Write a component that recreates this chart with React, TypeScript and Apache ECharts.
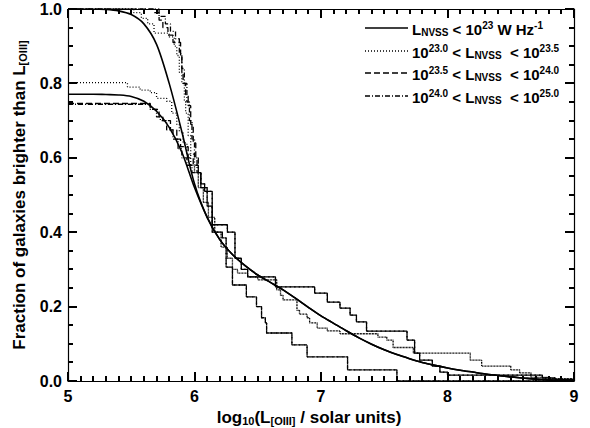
import React, { useEffect, useRef } from "react";
import * as echarts from "echarts";

// ---------- data ----------
const xMin = 5;
const xMax = 9;
const yMin = 0;
const yMax = 1;
const xMajorStep = 1;
const xMinorStep = 0.1;
const yMajorStep = 0.2;
const yMinorStep = 0.05;

// Solid (smooth) curves: L_NVSS < 1e23
const solidUpperHead = [
  [5.0, 1.0], [5.1, 1.0], [5.2, 1.0], [5.3, 0.999], [5.4, 0.995], [5.5, 0.985], [5.6, 0.96],
  [5.7, 0.905], [5.8, 0.8], [5.9, 0.67], [6.0, 0.53], [6.1, 0.44],
];
const solidLowerHead = [
  [5.0, 0.771], [5.1, 0.771], [5.2, 0.771], [5.3, 0.77], [5.4, 0.769], [5.5, 0.765],
  [5.6, 0.752], [5.7, 0.725], [5.8, 0.682], [5.9, 0.615], [6.0, 0.52], [6.1, 0.44],
];
const solidTail = [
  [6.2, 0.38], [6.3, 0.34], [6.4, 0.31], [6.5, 0.285], [6.6, 0.265], [6.7, 0.245],
  [6.8, 0.222], [6.9, 0.198], [7.0, 0.175], [7.1, 0.155], [7.2, 0.135], [7.3, 0.116],
  [7.4, 0.099], [7.5, 0.084], [7.6, 0.071], [7.7, 0.06], [7.8, 0.05], [7.9, 0.042],
  [8.0, 0.035], [8.1, 0.029], [8.2, 0.024], [8.3, 0.019], [8.4, 0.015], [8.5, 0.011],
  [8.6, 0.008], [8.7, 0.005], [8.8, 0.003], [8.9, 0.001], [9.0, 0.0],
];

// Dotted (step) curves: 1e23.0 < L < 1e23.5
const dottedUpperHead = [
  [5.0, 1.0], [5.52, 0.99], [5.58, 0.975], [5.63, 0.96], [5.68, 0.935], [5.8, 0.925],
  [5.84, 0.9], [5.86, 0.875], [5.88, 0.83], [5.9, 0.8], [5.92, 0.75], [5.93, 0.72],
  [5.95, 0.66], [5.97, 0.61], [6.0, 0.56],
];
const dottedLowerHead = [
  [5.0, 0.802], [5.47, 0.79], [5.57, 0.782], [5.65, 0.775], [5.7, 0.76], [5.78, 0.752],
  [5.82, 0.72], [5.86, 0.69], [5.88, 0.67], [5.91, 0.64], [5.94, 0.61], [5.97, 0.58],
  [6.0, 0.56],
];
const dottedTail = [
  [6.03, 0.52], [6.07, 0.48], [6.11, 0.44], [6.16, 0.4], [6.21, 0.36], [6.26, 0.33],
  [6.3, 0.3], [6.34, 0.29], [6.42, 0.28], [6.5, 0.272], [6.65, 0.245], [6.68, 0.23],
  [6.7, 0.218], [6.81, 0.19], [6.83, 0.18], [6.89, 0.17], [6.91, 0.156], [6.97, 0.142],
  [7.05, 0.135], [7.15, 0.127], [7.45, 0.118], [7.52, 0.11], [7.57, 0.09], [7.73, 0.075],
  [8.18, 0.056], [8.27, 0.04], [8.5, 0.03], [8.57, 0.022], [8.66, 0.01], [8.8, 0.006],
  [9.0, 0.004],
];

// Dashed (step) curves: 1e23.5 < L < 1e24.0
const dashedUpperHead = [
  [5.0, 1.0], [5.68, 0.99], [5.72, 0.97], [5.75, 0.95], [5.79, 0.93], [5.83, 0.91],
  [5.89, 0.87], [5.9, 0.83], [5.91, 0.8], [5.93, 0.77], [5.95, 0.74], [5.97, 0.69],
  [5.99, 0.64], [6.01, 0.6], [6.03, 0.56],
];
const dashedLowerHead = [
  [5.0, 0.746], [5.65, 0.73], [5.72, 0.71], [5.75, 0.7], [5.81, 0.675], [5.86, 0.65],
  [5.89, 0.63], [5.95, 0.6], [5.99, 0.58], [6.03, 0.56],
];
const dashedTail = [
  [6.05, 0.53], [6.08, 0.51], [6.14, 0.42], [6.26, 0.4], [6.32, 0.33], [6.37, 0.3],
  [6.42, 0.28], [6.64, 0.253], [6.95, 0.236], [7.05, 0.212], [7.15, 0.196],
  [7.23, 0.177], [7.28, 0.159], [7.36, 0.134], [7.68, 0.11], [7.74, 0.075],
  [7.78, 0.056], [7.88, 0.04], [7.94, 0.024], [8.0, 0.016], [8.75, 0.008],
  [8.85, 0.004], [9.0, 0.004],
];

// Dash-dot (step) curves: 1e24.0 < L < 1e25.0
const dashDotUpperHead = [
  [5.0, 1.0], [5.72, 0.98], [5.77, 0.96], [5.81, 0.94], [5.85, 0.92], [5.88, 0.88],
  [5.9, 0.84], [5.92, 0.8], [5.94, 0.75], [5.96, 0.7], [5.98, 0.65], [6.0, 0.6],
  [6.02, 0.56],
];
const dashDotLowerHead = [
  [5.0, 0.744], [5.65, 0.73], [5.7, 0.71], [5.73, 0.7], [5.78, 0.675], [5.83, 0.65],
  [5.87, 0.625], [5.9, 0.6], [5.94, 0.58], [5.98, 0.56],
];
const dashDotTail = [
  [6.05, 0.52], [6.1, 0.47], [6.14, 0.4], [6.22, 0.385], [6.25, 0.306], [6.3, 0.258],
  [6.41, 0.226], [6.49, 0.2], [6.53, 0.17], [6.56, 0.156], [6.57, 0.129], [6.77, 0.097],
  [6.89, 0.065], [7.21, 0.03], [7.6, 0.0], [9.0, 0.0],
];

const legendLabels = [
  "{n|L}{b|NVSS}{n| < 10}{p|23}{n| W Hz}{p|-1}",
  "{n|10}{p|23.0}{n| < L}{b|NVSS}{n|  < 10}{p|23.5}",
  "{n|10}{p|23.5}{n| < L}{b|NVSS}{n|  < 10}{p|24.0}",
  "{n|10}{p|24.0}{n| < L}{b|NVSS}{n|  < 10}{p|25.0}",
];
const xTitle = "{n|log}{b|10}{n|(L}{b|[OIII]}{n| / solar units)}";
const yTitle = "{n|Fraction of galaxies brighter than L}{b|[OIII]}";

// ---------- styles ----------
const FONT = "'Liberation Sans', Arial, Helvetica, sans-serif";
const richStyles = (size: number, small: number, shift: number) => ({
  n: { fontSize: size, fontWeight: "bold", fontFamily: FONT, color: "#000", fill: "#000" },
  b: { fontSize: small, fontWeight: "bold", fontFamily: FONT, color: "#000", fill: "#000", padding: [shift, 0, 0, 0] },
  p: { fontSize: small, fontWeight: "bold", fontFamily: FONT, color: "#000", fill: "#000", padding: [0, 0, shift, 0] },
});

const DASH_DOTTED = [1, 2];
const DASH_DASHED = [6, 3];
const DASH_DASHDOT = [5, 2, 1, 2];

// tick positions [value, isMajor], built from the axis ranges
function tickList(min: number, max: number, minor: number, major: number) {
  const out: number[][] = [];
  const n = Math.round((max - min) / minor);
  const per = Math.round(major / minor);
  for (let i = 0; i <= n; i++) {
    out.push([+(min + i * minor).toFixed(4), i % per === 0 ? 1 : 0]);
  }
  return out;
}

function axisBase(position: string, min: number, max: number, interval: number) {
  return {
    type: "value",
    position,
    min,
    max,
    interval,
    axisLine: { show: true, onZero: false, lineStyle: { color: "#000", width: 1.2 } },
    axisTick: { show: false },
    minorTick: { show: false },
    splitLine: { show: false },
    minorSplitLine: { show: false },
  };
}

export default function App() {
  const ref = useRef<HTMLDivElement>(null);
  useEffect(() => {
    if (!ref.current) return;
    const chart = echarts.init(ref.current, null, { renderer: "svg" });
    const stepSeries = (name: string, data: number[][], dash: number[], w = 1.3) => ({
      name, type: "line", data, step: "end", showSymbol: false, symbol: "none", silent: true,
      lineStyle: { color: "#000", width: w, type: dash },
    });
    const smoothSeries = (name: string, data: number[][]) => ({
      name, type: "line", data, smooth: 0.3, showSymbol: false, symbol: "none", silent: true,
      lineStyle: { color: "#000", width: 1.6, type: "solid" },
    });
    const tickLabel = { show: true, fontSize: 16, fontWeight: "bold", fontFamily: FONT, color: "#000" };

    chart.setOption({
      animation: false,
      backgroundColor: "#fff",
      grid: { left: 68, right: 16, top: 9, bottom: 47, containLabel: false, outerBoundsMode: "none" },
      xAxis: [
        {
          ...axisBase("bottom", xMin, xMax, xMajorStep),
          axisLabel: { ...tickLabel, margin: 7 },
          name: xTitle, nameLocation: "middle", nameGap: 25,
          nameTextStyle: { rich: richStyles(17, 11, 8), padding: [0, 24, 0, 0] },
        },
        { ...axisBase("top", xMin, xMax, xMajorStep), axisLabel: { show: false } },
      ],
      yAxis: [
        {
          ...axisBase("left", yMin, yMax, yMajorStep),
          axisLabel: { ...tickLabel, margin: 6, formatter: (v: number) => v.toFixed(1) },
          name: yTitle, nameLocation: "middle", nameRotate: 90, nameGap: 39,
          nameTextStyle: { rich: richStyles(17, 11, 8) },
        },
        { ...axisBase("right", yMin, yMax, yMajorStep), axisLabel: { show: false } },
      ],
      series: [
        smoothSeries("solidUpper", [...solidUpperHead, ...solidTail]),
        smoothSeries("solidLower", [...solidLowerHead, ...solidTail]),
        stepSeries("dottedUpper", [...dottedUpperHead, ...dottedTail], DASH_DOTTED),
        stepSeries("dottedLower", [...dottedLowerHead, ...dottedTail], DASH_DOTTED),
        stepSeries("dashedUpper", [...dashedUpperHead, ...dashedTail], DASH_DASHED),
        stepSeries("dashedLower", [...dashedLowerHead, ...dashedTail], DASH_DASHED),
        stepSeries("dashDotUpper", [...dashDotUpperHead, ...dashDotTail], DASH_DASHDOT),
        stepSeries("dashDotLower", [...dashDotLowerHead, ...dashDotTail], DASH_DASHDOT),
      ],
    });

    // ---- graphics: axis ticks on all four sides (positions from the chart's scales) + legend ----
    const graphic: any[] = [];
    const toPx = (x: number, y: number): number[] | null => {
      try {
        const p = chart.convertToPixel({ gridIndex: 0 }, [x, y]) as any;
        return p && p.length === 2 && isFinite(p[0]) && isFinite(p[1]) ? p : null;
      } catch (e) {
        return null;
      }
    };
    const tickStyle = { stroke: "#000", lineWidth: 2 };
    tickList(xMin, xMax, xMinorStep, xMajorStep).forEach(([v, major]) => {
      const len = major ? 9 : 5;
      const b = toPx(v, yMin);
      const t = toPx(v, yMax);
      if (!b || !t) return;
      const x = Math.round(b[0]);
      graphic.push({ type: "line", silent: true, z: 5, shape: { x1: x, y1: b[1], x2: x, y2: b[1] - len }, style: tickStyle });
      graphic.push({ type: "line", silent: true, z: 5, shape: { x1: x, y1: t[1], x2: x, y2: t[1] + len }, style: tickStyle });
    });
    tickList(yMin, yMax, yMinorStep, yMajorStep).forEach(([v, major]) => {
      const len = major ? 9 : 5;
      const l = toPx(xMin, v);
      const r = toPx(xMax, v);
      if (!l || !r) return;
      const y = Math.round(l[1]);
      graphic.push({ type: "line", silent: true, z: 5, shape: { x1: l[0], y1: y, x2: l[0] + len, y2: y }, style: tickStyle });
      graphic.push({ type: "line", silent: true, z: 5, shape: { x1: r[0], y1: y, x2: r[0] - len, y2: y }, style: tickStyle });
    });

    const legendY = [28, 51, 73, 96];
    const legendDash: (number[] | null)[] = [null, DASH_DOTTED, DASH_DASHED, DASH_DASHDOT];
    legendLabels.forEach((lab, i) => {
      graphic.push({
        type: "line",
        silent: true,
        shape: { x1: 365, y1: legendY[i], x2: 408, y2: legendY[i] },
        style: { stroke: "#000", lineWidth: i === 0 ? 1.6 : 1.3, lineDash: legendDash[i] || undefined },
      });
      graphic.push({
        type: "text",
        silent: true,
        x: 412,
        y: legendY[i] + 1,
        style: {
          text: lab, verticalAlign: "middle", align: "left", fill: "#000",
          font: `bold 15px ${FONT}`, rich: richStyles(15, 10, 7),
        },
      });
    });

    chart.setOption({ graphic });
    return () => chart.dispose();
  }, []);
  return (
    <div ref={ref} style={{ position: "fixed", left: 0, top: 0, width: 590, height: 428, background: "#fff" }} />
  );
}
